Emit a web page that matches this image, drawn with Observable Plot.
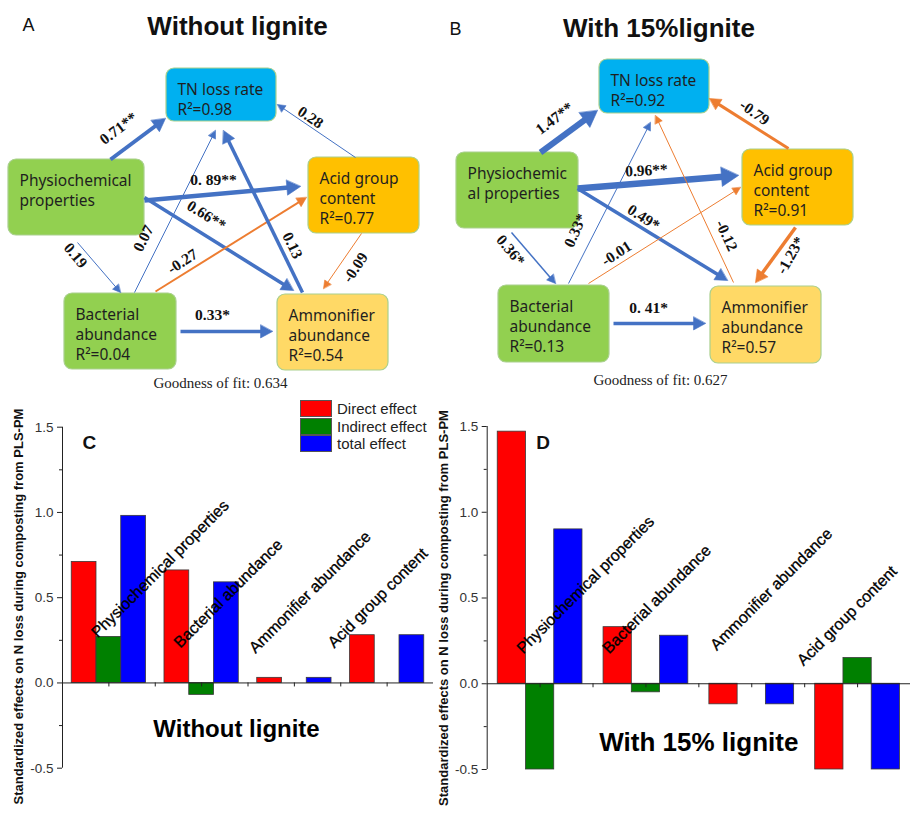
<!DOCTYPE html>
<html>
<head>
<meta charset="utf-8">
<script src="https://cdn.jsdelivr.net/npm/d3@7"></script>
<script src="https://cdn.jsdelivr.net/npm/@observablehq/plot@0.6"></script>
<style>
  body { margin: 0; background: #fff; }
  #wrap { position: relative; width: 919px; height: 820px; overflow: hidden; background: #fff;
          font-family: "Liberation Sans", Arial, sans-serif; }
  #wrap > svg, #wrap > figure { position: absolute; margin: 0; }
  .leg-row { position: absolute; left: 300px; height: 17px; }
  .leg-sw { position: absolute; left: 0; top: 0; width: 32px; height: 17px; box-sizing: border-box; border: 1px solid #555; }
  .leg-tx { position: absolute; left: 37px; top: 0; line-height: 17px; font-size: 15px; color: #222; white-space: nowrap; }
</style>
</head>
<body>
<div id="wrap"></div>
<script>
// ================= DATA =================
// Path model nodes
const nodeKeys = ["tn", "phys", "acid", "bact", "ammo"];
const nodeNamesA = ["TN loss rate", "Physiochemical\nproperties", "Acid group\ncontent", "Bacterial\nabundance", "Ammonifier\nabundance"];
const nodeNamesB = ["TN loss rate", "Physiochemic\nal properties", "Acid group\ncontent", "Bacterial\nabundance", "Ammonifier\nabundance"];
const r2A = [0.98, null, 0.77, 0.04, 0.54];
const r2B = [0.92, null, 0.91, 0.13, 0.57];

// Path model edges (same structure in both panels)
const edgeFrom = ["phys", "acid", "phys", "phys", "phys", "bact", "bact", "ammo", "acid", "bact"];
const edgeTo   = ["tn",   "tn",   "acid", "ammo", "bact", "tn",   "acid", "tn",   "ammo", "ammo"];
const pathCoefA = [0.71, 0.28, 0.89, 0.66, 0.19, 0.07, -0.27, 0.13, -0.09, 0.33];
const pathTextA = ["0.71**", "0.28", "0. 89**", "0.66**", "0.19", "0.07", "-0.27", "0.13", "-0.09", "0.33*"];
const pathCoefB = [1.47, -0.79, 0.96, 0.49, 0.36, 0.33, -0.01, -0.12, -1.23, 0.41];
const pathTextB = ["1.47**", "-0.79", "0.96**", "0.49*", "0.36*", "0.33*", "-0.01", "-0.12", "-1.23*", "0. 41*"];
const fitA = "0.634";
const fitB = "0.627";

// Bar charts
const categories = ["Physiochemical properties", "Bacterial abundance", "Ammonifier abundance", "Acid group content"];
const effectTypes = ["Direct effect", "Indirect effect", "total effect"];
const directC   = [0.71, 0.66, 0.03, 0.28];
const indirectC = [0.27, -0.07, 0.00, 0.00];
const totalC    = [0.98, 0.59, 0.03, 0.28];
const directD   = [1.47, 0.33, -0.12, -0.79];
const indirectD = [-0.57, -0.05, 0.00, 0.15];
const totalD    = [0.90, 0.28, -0.12, -0.64];
const yTicks = [-0.5, 0, 0.5, 1.0, 1.5];
const yMinorTicks = [-0.25, 0.25, 0.75, 1.25];
const yTitle = "Standardized effects on N loss during composting from PLS-PM";

// ================= LAYOUT / STYLE =================
const blue = "#4472c4", orange = "#ed7d31";
const nodeFill = ["#00b0f0", "#92d050", "#ffc000", "#92d050", "#ffd966"];
const effectColors = ["#ff0000", "#008000", "#0000ff"];
const nodeBoxA = [[166, 68, 276, 121], [8, 159, 144, 235], [308, 157, 419, 233], [64, 293, 176, 369], [277, 294, 388, 370]];
const nodeBoxB = [[599, 59, 709, 113], [456, 152, 578, 228], [742, 149, 853, 225], [498, 285, 609, 362], [710, 286, 821, 363]];
// [x1, y1, x2(tip), y2(tip), labelX, labelY, labelRotate]
const edgeGeomA = [
  [110, 159, 165, 118, 118, 128, -37],
  [355, 157, 277, 104, 310, 117, 34],
  [144, 200, 300, 186, 213, 180, 0],
  [144, 197, 293, 290, 206, 215, 32],
  [77, 242, 120, 292, 75, 255, 50],
  [134, 292, 215, 130, 143, 238, -63],
  [155, 291, 306, 197, 182, 261, -33],
  [302, 292, 223, 130, 292, 245, 64],
  [361, 233, 323, 288, 355, 267, -56],
  [180, 331, 272, 331, 212, 315, 0]
];
const edgeGeomB = [
  [540, 152, 597, 110, 554, 118, -37],
  [788, 148, 709, 98, 754, 112, 35],
  [577, 188, 738, 175, 646, 170, -3],
  [577, 188, 727, 280, 643, 217, 33],
  [511, 232, 555, 283, 510, 250, 50],
  [568, 283, 650, 122, 575, 230, -66],
  [588, 283, 740, 187, 616, 253, -33],
  [733, 282, 655, 115, 726, 235, 65],
  [795, 227, 755, 282, 790, 255, -60],
  [613, 323, 705, 323, 648, 308, 0]
];
const edgeWidthA = [4, 1, 4.5, 3.5, 1, 1, 2, 3.5, 1, 3.5];
const edgeWidthB = [6, 3, 6.5, 3.5, 1.5, 1, 1, 1, 3.5, 3.5];
const catLabelPosC = [[0.38, 0.26], [1.27, 0.2], [2.08, 0.17], [2.93, 0.2]];
const catLabelPosD = [[0.34, 0.17], [1.15, 0.17], [2.17, 0.19], [2.99, 0.1]];
const BW = 0.267; // bar width in group units

const wrap = document.getElementById("wrap");

// ================= PATH DIAGRAMS =================
function diagramMarks(boxes, names, r2, coef, texts, geom, widths, fit, fitPos) {
  const nodes = nodeKeys.map((k, i) => ({
    key: k,
    x1: boxes[i][0], y1: boxes[i][1], x2: boxes[i][2], y2: boxes[i][3],
    fill: nodeFill[i],
    label: names[i] + (r2[i] != null ? "\nR²=" + r2[i].toFixed(2) : "")
  }));
  const edges = coef.map((c, i) => {
    const [x1, y1, x2, y2, lx, ly, rot] = geom[i];
    const w = widths[i];
    const dx = x2 - x1, dy = y2 - y1, len = Math.hypot(dx, dy);
    const ux = dx / len, uy = dy / len;
    const L = 6 + 1.7 * w, Hh = 2.8 + 1.05 * w;
    const bx = x2 - ux * L, by = y2 - uy * L;
    return {
      id: i, from: edgeFrom[i], to: edgeTo[i], coef: c, text: texts[i],
      neg: c < 0, color: c < 0 ? orange : blue, w,
      sx: x1, sy: y1, ex: bx + ux * 1.5, ey: by + uy * 1.5,
      lx, ly, rot,
      head: [[x2, y2], [bx - uy * Hh, by + ux * Hh], [bx + uy * Hh, by - ux * Hh]]
    };
  });
  const heads = edges.flatMap(e => e.head.map(p => ({id: e.id, x: p[0], y: p[1], neg: e.neg})));
  return [
    Plot.rect(nodes, {x1: "x1", y1: "y1", x2: "x2", y2: "y2", fill: "fill", stroke: "#a9d08e", strokeWidth: 1.2, rx: 8}),
    Plot.text(nodes, {x: d => d.x1 + 11, y: d => d.y1 + 12, text: "label", textAnchor: "start", lineAnchor: "top",
      fontSize: 15.5, lineHeight: 1.29, fontFamily: "'Noto Sans', 'DejaVu Sans', sans-serif", fill: "#1f1f1f"}),
    Plot.link(edges, {x1: "sx", y1: "sy", x2: "ex", y2: "ey", stroke: "color", strokeWidth: "w"}),
    Plot.line(heads.filter(h => !h.neg), {x: "x", y: "y", z: "id", fill: blue, stroke: blue, strokeWidth: 0.6, curve: "linear-closed"}),
    Plot.line(heads.filter(h => h.neg), {x: "x", y: "y", z: "id", fill: orange, stroke: orange, strokeWidth: 0.6, curve: "linear-closed"}),
    Plot.text(edges, {x: "lx", y: "ly", text: "text", rotate: "rot", fontFamily: "'Liberation Serif', 'Times New Roman', serif",
      fontWeight: "bold", fontSize: 15.5, fill: "#111"}),
    Plot.text(["Goodness of fit: " + fit], {x: fitPos[0], y: fitPos[1], fontFamily: "'Liberation Serif', 'Times New Roman', serif",
      fontSize: 15, fill: "#222"})
  ];
}

const TW = 919, TH = 395;
const topPlot = Plot.plot({
  width: TW, height: TH,
  marginTop: 0, marginRight: 0, marginBottom: 0, marginLeft: 0,
  x: {domain: [0, TW], range: [0, TW], axis: null},
  y: {domain: [0, TH], range: [0, TH], axis: null},
  color: {type: "identity"},
  style: {background: "transparent", overflow: "visible"},
  marks: [
    ...diagramMarks(nodeBoxA, nodeNamesA, r2A, pathCoefA, pathTextA, edgeGeomA, edgeWidthA, fitA, [220, 383]),
    ...diagramMarks(nodeBoxB, nodeNamesB, r2B, pathCoefB, pathTextB, edgeGeomB, edgeWidthB, fitB, [660, 380]),
    Plot.text(["A", "B"], {x: [22, 449], y: [25, 29], textAnchor: "start", fontSize: 18,
      fontFamily: "'Liberation Sans', Arial, sans-serif", fill: "#111"}),
    Plot.text(["Without lignite", "With 15%lignite"], {x: [237, 658.5], y: [26.5, 28.5], fontSize: 26, fontWeight: "bold",
      fontFamily: "'Liberation Sans', Arial, sans-serif", fill: "#111"})
  ]
});
topPlot.style.left = "0px";
topPlot.style.top = "0px";
wrap.appendChild(topPlot);

// ================= BAR CHARTS =================
const hasAxisMark = typeof Plot.axisY === "function";
function barPlot(o) {
  const bars = categories.flatMap((c, i) =>
    [o.direct[i], o.indirect[i], o.total[i]].map((v, j) => ({i, j, v, category: c, type: effectTypes[j], color: effectColors[j]})));
  const pxPerUnitX = (o.width - o.ml - o.mr) / categories.length;
  const pxPerUnitY = (o.height - o.mt - o.mb) / 2;
  const xTickLen = 4 / pxPerUnitY;
  const minorLen = 3 / pxPerUnitX;
  const majorLen = 5 / pxPerUnitX;
  const xTicks = d3.range(0.5, categories.length, 0.5);
  const yAxisMarks = hasAxisMark
    ? [Plot.axisY({ticks: yTicks, tickFormat: d => d.toFixed(1), tickSize: 5, tickPadding: 4, label: null,
        fontSize: 13.5, fill: "#333", stroke: "#222"})]
    : [Plot.ruleY(yTicks, {y: d => d, x1: 0, x2: -majorLen, stroke: "#222"}),
       Plot.text(yTicks, {x: 0, y: d => d, text: d => d.toFixed(1), dx: -9, textAnchor: "end", fontSize: 13.5, fill: "#333"})];
  const p = Plot.plot({
    width: o.width, height: o.height,
    marginLeft: o.ml, marginRight: o.mr, marginTop: o.mt, marginBottom: o.mb,
    style: {background: "transparent", overflow: "visible", fontFamily: "'Liberation Sans', Arial, sans-serif", fontSize: "13.5px", color: "#333"},
    x: {domain: [0, categories.length], axis: null},
    y: {domain: [-0.5, 1.5], clamp: true, axis: hasAxisMark ? undefined : null, label: null},
    color: {type: "identity"},
    marks: [
      Plot.rect(bars, {x1: d => d.i + 0.5 + (d.j - 1.5) * BW, x2: d => d.i + 0.5 + (d.j - 0.5) * BW,
        y1: 0, y2: "v", fill: "color", stroke: "#3a3a3a", strokeWidth: 0.8}),
      Plot.ruleY([0], {stroke: "#222", strokeWidth: 1}),
      Plot.ruleX([0], {y1: -0.5, y2: 1.5, stroke: "#222", strokeWidth: 1}),
      Plot.ruleX(xTicks, {x: d => d, y1: 0, y2: -xTickLen, stroke: "#222"}),
      Plot.ruleY(yMinorTicks, {y: d => d, x1: 0, x2: -minorLen, stroke: "#222"}),
      ...yAxisMarks,
      Plot.text(categories, {x: (d, i) => o.labelPos[i][0], y: (d, i) => o.labelPos[i][1], text: d => d,
        rotate: -45, textAnchor: "start", lineAnchor: "bottom", fontSize: 16, fill: "#000", stroke: "#000", strokeWidth: 0.3}),
      Plot.text([o.letter], {frameAnchor: "top-left", dx: o.letterDx, dy: o.letterDy, textAnchor: "start", lineAnchor: "top",
        fontSize: 19, fontWeight: "bold", fill: "#111"}),
      Plot.text([o.subtitle], {frameAnchor: "bottom", dx: o.subDx, dy: o.subDy, fontSize: o.subSize, fontWeight: "bold", fill: "#000"}),
      Plot.text([yTitle], {frameAnchor: "left", textAnchor: "middle", lineAnchor: "middle", rotate: -90,
        dx: o.titleDx, dy: o.titleDy, fontSize: 13, fontWeight: "bold", fill: "#111"})
    ]
  });
  p.style.left = o.left + "px";
  p.style.top = o.top + "px";
  return p;
}

wrap.appendChild(barPlot({
  direct: directC, indirect: indirectC, total: totalC, labelPos: catLabelPosC,
  letter: "C", subtitle: "Without lignite",
  left: 0, top: 390, width: 440, height: 430, ml: 62, mr: 7, mt: 36.7, mb: 52.3,
  letterDx: 20, letterDy: 8.3, subDx: -11.5, subDy: -31.4, subSize: 24, titleDx: -44, titleDy: 8.8
}));
wrap.appendChild(barPlot({
  direct: directD, indirect: indirectD, total: totalD, labelPos: catLabelPosD,
  letter: "D", subtitle: "With 15% lignite",
  left: 430, top: 390, width: 489, height: 430, ml: 56.7, mr: 9, mt: 36, mb: 51,
  letterDx: 49, letterDy: 9, subDx: 0, subDy: -18.3, subSize: 26, titleDx: -43.7, titleDy: 10
}));

// ================= LEGEND (panel C) =================
effectTypes.forEach((t, k) => {
  const row = document.createElement("div");
  row.className = "leg-row";
  row.style.top = (400 + k * 17.5) + "px";
  const sw = document.createElement("div");
  sw.className = "leg-sw";
  sw.style.background = effectColors[k];
  const tx = document.createElement("div");
  tx.className = "leg-tx";
  tx.textContent = t;
  row.appendChild(sw);
  row.appendChild(tx);
  wrap.appendChild(row);
});
</script>
</body>
</html>
